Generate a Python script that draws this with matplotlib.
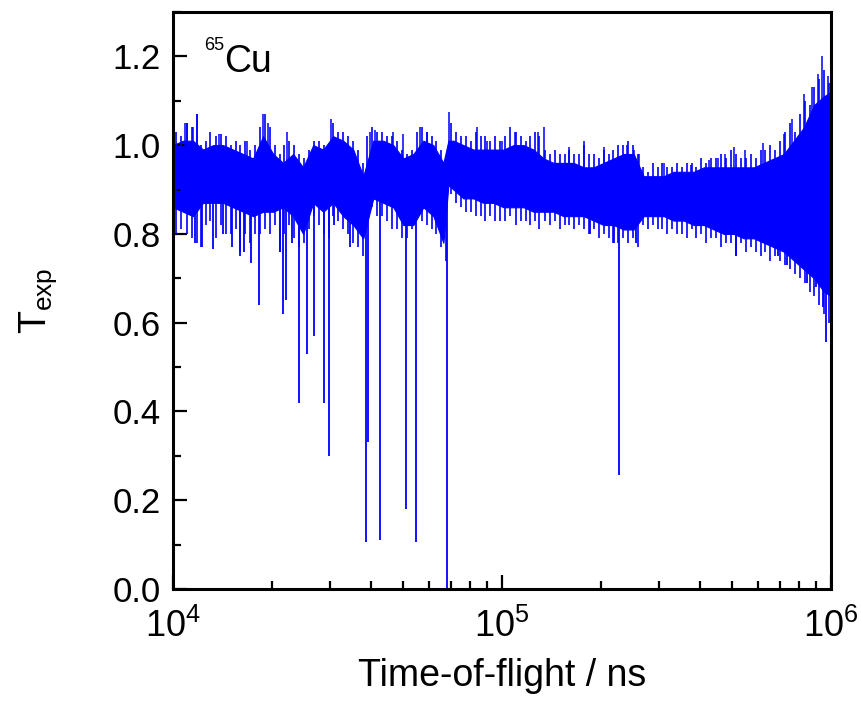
import numpy as np
import matplotlib
matplotlib.use('Agg')
import matplotlib.pyplot as plt
from matplotlib.ticker import MultipleLocator, LogLocator, NullFormatter, FormatStrFormatter

# solid core of the noise band
band_tof = [10000, 10730, 11500, 12340, 13240, 14200, 15230, 16340, 17520, 18790,
            20160, 21620, 23190, 24870, 26680, 28620, 30690, 32920, 35310, 37870,
            40620, 43570, 46740, 50130, 53770, 57680, 61870, 66360, 68730, 71180,
            76350, 81890, 87830, 94220, 101100, 108400, 116300, 124700, 133800, 143500,
            153900, 165100, 177100, 190000, 203700, 218500, 234400, 251400, 269600, 289200,
            310200, 332700, 356900, 382800, 410600, 440400, 472400, 506700, 543500, 583000,
            625200, 670600, 719300, 771600, 827600, 887700, 952100, 1000000]
band_hi = [1.00, 1.01, 1.01, 0.99, 1.00, 1.00, 0.99, 0.98, 0.97, 1.02,
           0.98, 0.96, 0.98, 0.95, 1.00, 0.99, 1.02, 1.01, 0.99, 0.93,
           1.01, 1.01, 1.00, 0.97, 0.98, 1.01, 1.00, 0.96, 1.01, 1.01,
           1.00, 0.99, 0.99, 0.99, 0.99, 1.00, 1.00, 0.99, 0.97, 0.96,
           0.96, 0.96, 0.95, 0.95, 0.96, 0.97, 0.98, 0.98, 0.93, 0.93,
           0.93, 0.94, 0.94, 0.94, 0.95, 0.95, 0.95, 0.95, 0.95, 0.95,
           0.96, 0.97, 0.98, 1.01, 1.04, 1.09, 1.11, 1.12]
band_lo = [0.86, 0.85, 0.84, 0.87, 0.87, 0.87, 0.86, 0.85, 0.84, 0.85,
           0.85, 0.86, 0.84, 0.80, 0.87, 0.85, 0.87, 0.84, 0.82, 0.79,
           0.88, 0.87, 0.86, 0.82, 0.82, 0.86, 0.84, 0.78, 0.91, 0.90,
           0.88, 0.88, 0.87, 0.87, 0.86, 0.86, 0.86, 0.85, 0.85, 0.85,
           0.84, 0.84, 0.84, 0.83, 0.82, 0.82, 0.81, 0.81, 0.84, 0.84,
           0.84, 0.83, 0.83, 0.82, 0.82, 0.81, 0.80, 0.80, 0.79, 0.79,
           0.78, 0.77, 0.76, 0.74, 0.72, 0.70, 0.67, 0.66]

# noise columns (min / max of the signal), one per decade step
mant = [10.2, 10.6, 11.0, 11.4, 11.8, 12.2, 12.6, 13.0, 13.5, 14.0,
        14.5, 15.0, 15.5, 16.0, 16.6, 17.2, 17.8, 18.4, 19.0, 19.7,
        20.4, 21.1, 21.8, 22.6, 23.4, 24.2, 25.0, 25.9, 26.8, 27.7,
        28.7, 29.7, 30.7, 31.8, 32.9, 34.0, 35.2, 36.4, 37.7, 39.0,
        40.4, 41.8, 43.3, 44.8, 46.4, 48.0, 49.7, 51.4, 53.2, 55.1,
        57.0, 59.0, 61.1, 63.2, 65.4, 67.7, 70.1, 72.6, 75.1, 77.7,
        80.4, 83.2, 86.1, 89.1, 92.2, 95.4, 98.7]
noise_tof = [m * 1e3 for m in mant] + [m * 1e4 for m in mant]
noise_hi = [1.03, 1.02, 1.05, 1.04, 1.07, 1.00, 1.01, 1.03, 1.02, 1.025,
            1.02, 1.00, 1.01, 1.00, 1.01, 0.99, 1.00, 1.04, 1.07, 1.04,
            1.00, 0.98, 1.00, 1.01, 1.00, 0.98, 0.97, 0.99, 1.01, 1.01,
            1.00, 0.98, 1.05, 1.03, 1.03, 1.02, 1.01, 0.99, 0.96, 1.02,
            1.04, 1.03, 1.03, 1.02, 1.02, 1.01, 0.99, 0.98, 0.99, 1.03,
            1.04, 1.03, 1.02, 1.01, 0.99, 0.96, 1.05, 1.03, 1.02, 1.02,
            1.01, 1.03, 1.02, 1.02, 1.01, 1.02, 1.01,
            1.02, 1.04, 1.03, 1.02, 1.01, 1.02, 1.03, 1.02, 0.99, 0.98,
            0.99, 0.98, 0.98, 0.99, 0.98, 0.98, 1.00, 0.98, 0.98, 0.97,
            0.99, 0.98, 0.99, 1.00, 1.00, 1.01, 1.00, 0.98, 0.95, 0.94,
            0.96, 0.95, 0.96, 0.95, 0.95, 0.96, 0.95, 0.96, 0.96, 0.95,
            0.97, 0.96, 0.97, 0.97, 0.98, 0.97, 0.99, 0.98, 0.97, 0.97,
            0.98, 0.97, 0.99, 0.99, 1.00, 0.99, 1.01, 1.03, 1.05, 1.03,
            1.07, 1.10, 1.09, 1.13, 1.15, 1.17, 1.14]
noise_lo = [0.80, 0.81, 0.80, 0.79, 0.78, 0.77, 0.82, 0.83, 0.79, 0.82,
            0.80, 0.80, 0.81, 0.76, 0.80, 0.78, 0.80, 0.80, 0.81, 0.80,
            0.82, 0.76, 0.80, 0.82, 0.79, 0.77, 0.78, 0.81, 0.84, 0.82,
            0.80, 0.79, 0.84, 0.83, 0.81, 0.80, 0.78, 0.77, 0.75, 0.85,
            0.86, 0.84, 0.84, 0.83, 0.81, 0.81, 0.79, 0.79, 0.81, 0.84,
            0.83, 0.82, 0.81, 0.80, 0.77, 0.74, 0.89, 0.87, 0.86, 0.85,
            0.85, 0.84, 0.84, 0.83, 0.84, 0.83, 0.83,
            0.83, 0.84, 0.82, 0.83, 0.83, 0.82, 0.83, 0.81, 0.83, 0.82,
            0.83, 0.81, 0.82, 0.82, 0.81, 0.82, 0.81, 0.80, 0.81, 0.79,
            0.80, 0.79, 0.78, 0.78, 0.79, 0.78, 0.79, 0.77, 0.82, 0.81,
            0.82, 0.81, 0.81, 0.80, 0.81, 0.80, 0.80, 0.79, 0.81, 0.79,
            0.80, 0.78, 0.79, 0.79, 0.77, 0.78, 0.78, 0.75, 0.78, 0.76,
            0.77, 0.76, 0.75, 0.76, 0.74, 0.75, 0.74, 0.73, 0.72, 0.71,
            0.70, 0.69, 0.67, 0.66, 0.64, 0.62, 0.60]

# resonance dips and deep downward spikes (tof, lowest T)
dip_tof = [11670, 12250, 13240, 14200, 15120, 16000, 16450, 17280, 18270, 21170,
           21620, 22080, 23030, 24180, 25580, 26870, 28820, 29850, 30910, 34580,
           38690, 39230, 42670, 51200, 54920, 68260, 184650, 218500, 226290, 254910,
           513700, 689700, 734600, 845300, 900300, 945500, 965600]
dip_min = [0.78, 0.77, 0.765, 0.80, 0.77, 0.75, 0.76, 0.735, 0.64, 0.76,
           0.62, 0.65, 0.78, 0.42, 0.53, 0.57, 0.42, 0.30, 0.82, 0.77,
           0.106, 0.33, 0.11, 0.18, 0.106, 0.0, 0.80, 0.78, 0.257, 0.78,
           0.75, 0.75, 0.73, 0.69, 0.68, 0.635, 0.557]

# tall upward spikes (tof, highest T)
spike_tof = [10880, 11030, 11510, 11830, 13800, 16800, 18790, 19460, 22240, 30270,
             39790, 41210, 46740, 50140, 56480, 59320, 69220, 84220, 90330, 100350,
             109900, 128300, 133800, 159400, 177100, 203700, 239300, 251400, 260400, 310200,
             374900, 425300, 452900, 475700, 506700, 547300, 620900, 719300, 760700, 827600,
             875300, 912900, 938900, 979200]
spike_max = [1.05, 1.05, 1.04, 1.07, 1.025, 1.01, 1.07, 1.05, 1.03, 1.06,
             1.03, 1.035, 1.03, 1.025, 1.04, 1.03, 1.075, 1.04, 1.01, 1.01,
             1.03, 1.03, 1.04, 0.995, 1.01, 0.995, 1.00, 0.99, 0.98, 0.96,
             0.955, 0.967, 0.97, 0.98, 0.995, 0.99, 1.005, 1.025, 1.06, 1.115,
             1.13, 1.16, 1.20, 1.155]

plt.rcParams['font.family'] = ['Liberation Sans', 'DejaVu Sans']
plt.rcParams['mathtext.fontset'] = 'custom'
plt.rcParams['mathtext.rm'] = 'Liberation Sans'
plt.rcParams['mathtext.it'] = 'Liberation Sans'

blue = '#0000ff'
fig = plt.figure(figsize=(8.62, 7.07), dpi=100)
ax = fig.add_axes([0.2007, 0.167, 0.7633, 0.816])

lt = np.log10(band_tof)
mid = (np.array(band_hi) + np.array(band_lo)) / 2
ax.fill_between(band_tof, band_lo, band_hi, color=blue, linewidth=0.8)
ax.vlines(noise_tof, noise_lo, noise_hi, color=blue, linewidth=1.2)
ax.vlines(dip_tof, dip_min, np.interp(np.log10(dip_tof), lt, mid), color=blue, linewidth=1.3)
ax.vlines(spike_tof, np.interp(np.log10(spike_tof), lt, mid), spike_max, color=blue, linewidth=1.1)

ax.set_xscale('log')
ax.set_xlim(1e4, 1e6)
ax.set_ylim(0, 1.3)
ax.yaxis.set_major_locator(MultipleLocator(0.2))
ax.yaxis.set_minor_locator(MultipleLocator(0.1))
ax.yaxis.set_major_formatter(FormatStrFormatter('%.1f'))
ax.xaxis.set_minor_locator(LogLocator(base=10, subs=np.arange(2, 10)))
ax.xaxis.set_minor_formatter(NullFormatter())

for s in ax.spines.values():
    s.set_linewidth(2.2)
ax.tick_params(which='both', direction='in', top=False, right=False, width=1.6)
ax.tick_params(which='major', length=10)
ax.tick_params(which='minor', length=6)
ax.tick_params(axis='y', labelsize=25, pad=9)
ax.tick_params(axis='x', labelsize=26, pad=14)

ax.set_xlabel('Time-of-flight / ns', fontsize=27, labelpad=10)
ax.set_ylabel(r'T$_{\mathregular{exp}}$', fontsize=27, labelpad=38)
ax.text(0.077, 0.945, 'Cu', transform=ax.transAxes, fontsize=27, ha='left', va='top')
ax.text(0.047, 0.957, '65', transform=ax.transAxes, fontsize=13, ha='left', va='top')

plt.savefig('out.png', dpi=100)
